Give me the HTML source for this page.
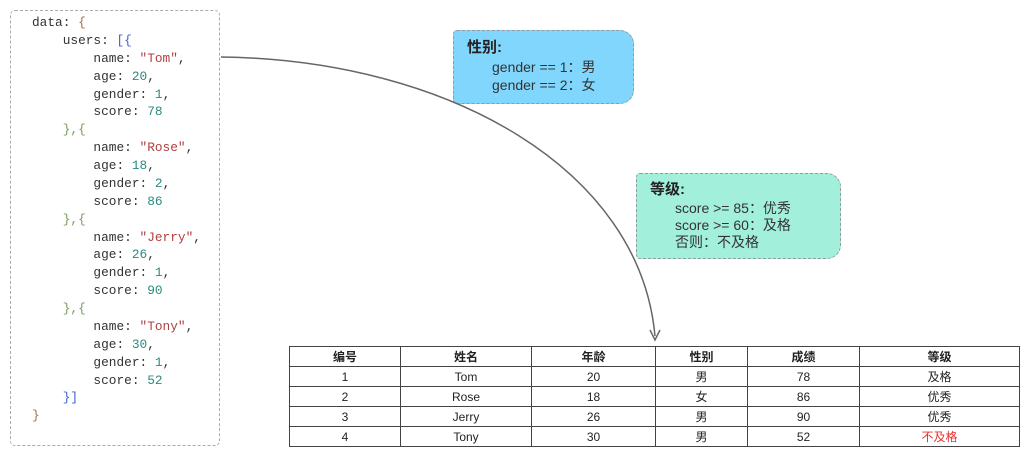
<!DOCTYPE html>
<html><head><meta charset="utf-8"><style>
body{margin:0;width:1024px;height:450px;background:#fff;position:relative;overflow:hidden;font-family:"Liberation Sans","Noto Sans CJK SC",sans-serif}
.code{position:absolute;left:10px;top:10px;width:210px;height:436px;border:1px dashed #aaa;border-radius:5px;box-sizing:border-box}
.code pre{position:absolute;left:21px;top:3px;margin:0;font-family:"Liberation Mono","DejaVu Sans Mono",monospace;font-size:12.8px;line-height:17.87px;color:#333}
.s{color:#b04040}.n{color:#2a8a80}.b{color:#7a9a60}.bl{color:#4060d0}.o{color:#a07050}
.box{position:absolute;border:1px dashed #999;border-radius:4px 14px 14px 4px;box-sizing:border-box;font-size:14px;line-height:18px;color:#333}
.box b{font-size:15px;display:block;margin-bottom:1px;color:#222}
table{position:absolute;left:289px;top:346px;width:731px;border-collapse:collapse;font-size:12px;color:#222}
td{border:1px solid #444;height:19px;padding:0;text-align:center}
</style></head><body>
<div class="code"><pre><span>data: </span><span class="o">{</span>
    users: <span class="bl">[{</span>
        name: <span class="s">"Tom"</span>,
        age: <span class="n">20</span>,
        gender: <span class="n">1</span>,
        score: <span class="n">78</span>
    <span class="b">},{</span>
        name: <span class="s">"Rose"</span>,
        age: <span class="n">18</span>,
        gender: <span class="n">2</span>,
        score: <span class="n">86</span>
    <span class="b">},{</span>
        name: <span class="s">"Jerry"</span>,
        age: <span class="n">26</span>,
        gender: <span class="n">1</span>,
        score: <span class="n">90</span>
    <span class="b">},{</span>
        name: <span class="s">"Tony"</span>,
        age: <span class="n">30</span>,
        gender: <span class="n">1</span>,
        score: <span class="n">52</span>
    <span class="bl">}]</span>
<span class="o">}</span></pre></div>
<div class="box" style="left:453px;top:30px;width:181px;height:74px;background:#80d6fd;padding:8px 0 0 13px"><b>性别:</b><div style="padding-left:25px">gender == 1：男<br>gender == 2：女</div></div>
<div class="box" style="left:636px;top:173px;width:205px;height:86px;background:#a2f0dc;padding:7px 0 0 13px"><b>等级:</b><div style="padding-left:25px;line-height:17px">score &gt;= 85：优秀<br>score &gt;= 60：及格<br>否则：不及格</div></div>
<svg style="position:absolute;left:0;top:0" width="1024" height="450">
<path d="M221 57 C450 60 640 170 655 336" fill="none" stroke="#666" stroke-width="1.5"/>
<path d="M650 330 L655 340 L660 330" fill="none" stroke="#666" stroke-width="1.5"/>
</svg>
<table>
<colgroup><col style="width:111px"><col style="width:131px"><col style="width:124px"><col style="width:92px"><col style="width:112px"><col></colgroup>
<tr style="font-weight:bold"><td>编号</td><td>姓名</td><td>年龄</td><td>性别</td><td>成绩</td><td>等级</td></tr>
<tr><td>1</td><td>Tom</td><td>20</td><td>男</td><td>78</td><td>及格</td></tr>
<tr><td>2</td><td>Rose</td><td>18</td><td>女</td><td>86</td><td>优秀</td></tr>
<tr><td>3</td><td>Jerry</td><td>26</td><td>男</td><td>90</td><td>优秀</td></tr>
<tr><td>4</td><td>Tony</td><td>30</td><td>男</td><td>52</td><td style="color:#e83030">不及格</td></tr>
</table>
</body></html>
